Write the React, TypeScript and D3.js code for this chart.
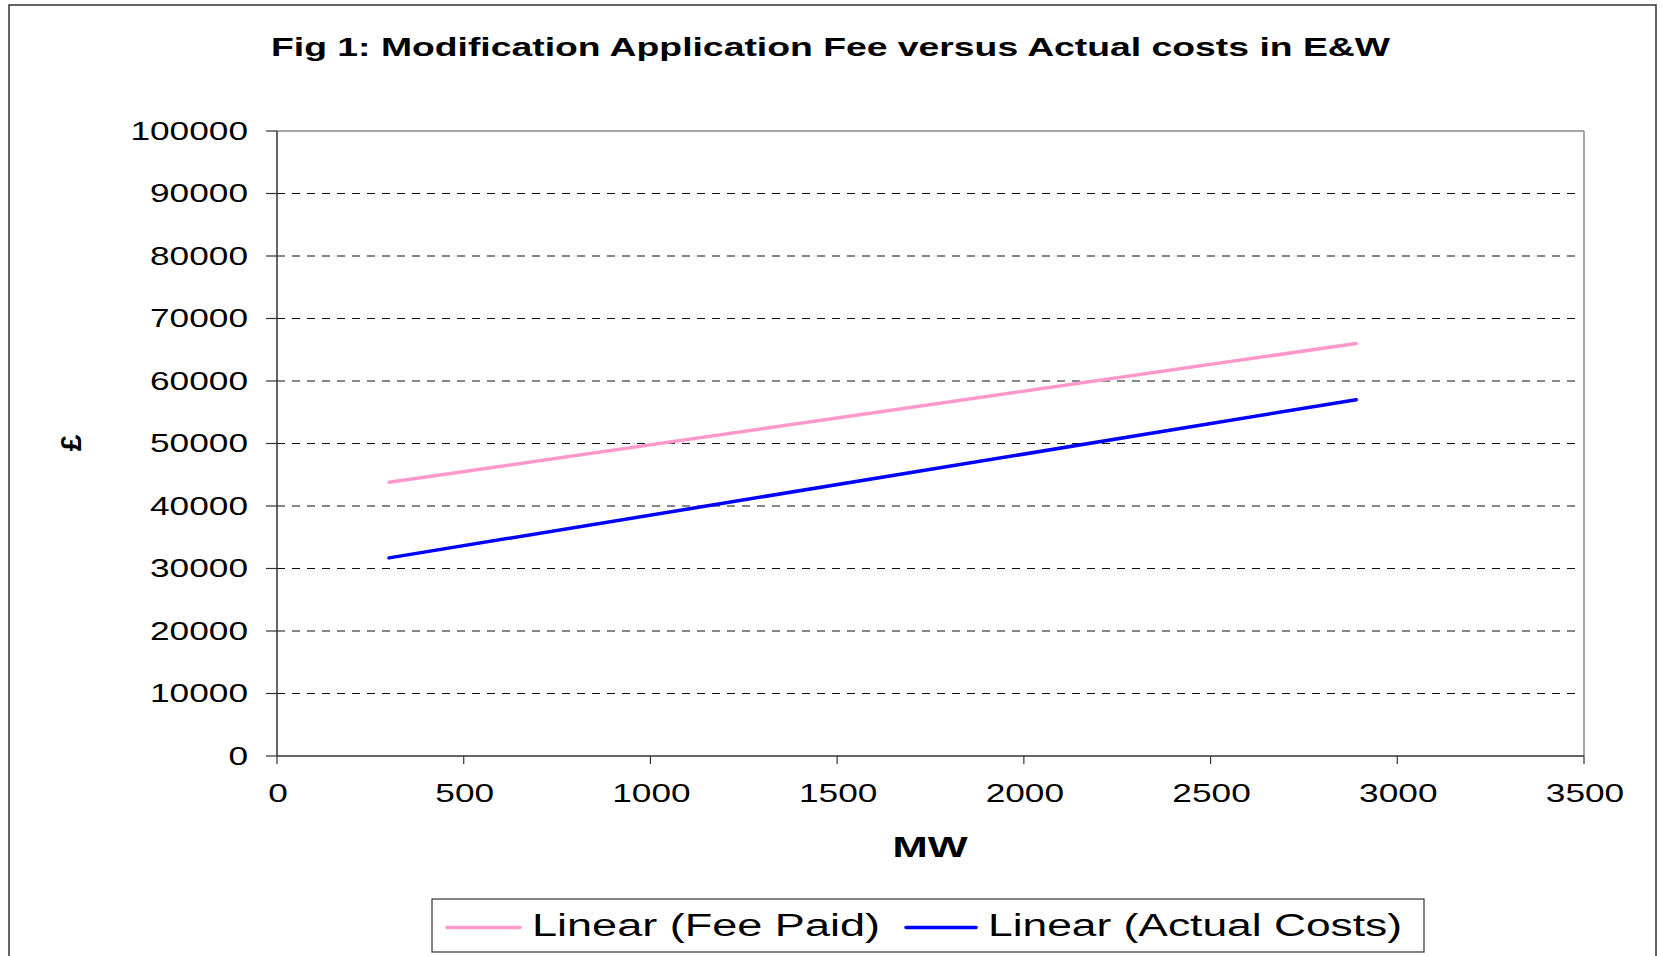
import React, { useEffect, useRef } from 'react';
import * as d3 from 'd3';

// trend line end points
const megawatts = [300, 2890];
const feePaid = [43800, 66000];
const actualCosts = [31700, 57000];

const xTicks = [0, 500, 1000, 1500, 2000, 2500, 3000, 3500];
const yTicks = [0, 10000, 20000, 30000, 40000, 50000, 60000, 70000, 80000, 90000, 100000];

const seriesNames = ['Linear (Fee Paid)', 'Linear (Actual Costs)'];
const seriesColors = ['#FF99CC', '#0000FF'];

const titleText = 'Fig 1: Modification Application Fee versus Actual costs in E&W';

const App = () => {
  const chartRef = useRef<SVGSVGElement>(null);

  useEffect(() => {
    drawChart();
  }, []);

  const drawChart = () => {
    const width = 1662;
    const height = 956;
    const font = '"Liberation Sans", Arial, sans-serif';
    const stretch = 1.41; // the original text is drawn wide

    const svg = d3.select(chartRef.current)
      .attr('width', width)
      .attr('height', height)
      .style('position', 'absolute')
      .style('left', 0)
      .style('top', 0)
      .style('background', 'white');
    svg.selectAll('*').remove();

    const left = 277, right = 1584, top = 131, bottom = 756;

    const x = d3.scaleLinear().domain([0, 3500]).range([left, right]);
    const y = d3.scaleLinear().domain([0, 100000]).range([bottom, top]);

    // outer chart border
    svg.append('rect')
      .attr('x', 9).attr('y', 5)
      .attr('width', 1647).attr('height', 980)
      .attr('fill', 'none')
      .attr('stroke', '#333')
      .attr('stroke-width', 1.5);

    // title
    svg.append('text')
      .attr('x', 271).attr('y', 56)
      .attr('textLength', 1119)
      .attr('lengthAdjust', 'spacingAndGlyphs')
      .attr('font-family', font)
      .attr('font-weight', 'bold')
      .attr('font-size', 26)
      .attr('fill', '#000')
      .text(titleText);

    // gridlines
    svg.append('g')
      .selectAll('line')
      .data(yTicks.filter(d => d > 0 && d < 100000))
      .join('line')
      .attr('x1', left).attr('x2', right - 8)
      .attr('y1', d => y(d)).attr('y2', d => y(d))
      .attr('stroke', '#111')
      .attr('stroke-width', 1.2)
      .attr('stroke-dasharray', '8,7');

    // plot frame: grey top / right, dark axes
    svg.append('line')
      .attr('x1', left).attr('x2', right).attr('y1', top).attr('y2', top)
      .attr('stroke', '#888').attr('stroke-width', 1.5);
    svg.append('line')
      .attr('x1', right).attr('x2', right).attr('y1', top).attr('y2', bottom)
      .attr('stroke', '#888').attr('stroke-width', 1.5);
    svg.append('line')
      .attr('x1', left).attr('x2', left).attr('y1', top).attr('y2', bottom)
      .attr('stroke', '#333').attr('stroke-width', 1.5);
    svg.append('line')
      .attr('x1', left).attr('x2', right).attr('y1', bottom).attr('y2', bottom)
      .attr('stroke', '#333').attr('stroke-width', 1.5);

    // y ticks + labels
    const yAxis = svg.append('g');
    yAxis.selectAll('line')
      .data(yTicks)
      .join('line')
      .attr('x1', left - 11).attr('x2', left)
      .attr('y1', d => y(d)).attr('y2', d => y(d))
      .attr('stroke', '#333').attr('stroke-width', 1.2);
    yAxis.selectAll('text')
      .data(yTicks)
      .join('text')
      .attr('transform', d => `translate(248,${y(d) + 8.5}) scale(${stretch},1)`)
      .attr('text-anchor', 'end')
      .attr('font-family', font)
      .attr('font-size', 25)
      .attr('fill', '#000')
      .text(d => String(d));

    // x ticks + labels
    const xAxis = svg.append('g');
    xAxis.selectAll('line')
      .data(xTicks)
      .join('line')
      .attr('x1', d => x(d)).attr('x2', d => x(d))
      .attr('y1', bottom).attr('y2', bottom + 8)
      .attr('stroke', '#333').attr('stroke-width', 1.2);
    xAxis.selectAll('text')
      .data(xTicks)
      .join('text')
      .attr('transform', d => `translate(${x(d) + 1},802) scale(${stretch},1)`)
      .attr('text-anchor', 'middle')
      .attr('font-family', font)
      .attr('font-size', 25)
      .attr('fill', '#000')
      .text(d => String(d));

    // axis titles
    svg.append('text')
      .attr('transform', `translate(930,857) scale(${stretch},1)`)
      .attr('text-anchor', 'middle')
      .attr('font-family', font)
      .attr('font-weight', 'bold')
      .attr('font-size', 30)
      .attr('fill', '#000')
      .text('MW');
    svg.append('text')
      .attr('transform', 'translate(81,443) rotate(-90)')
      .attr('text-anchor', 'middle')
      .attr('font-family', font)
      .attr('font-weight', 'bold')
      .attr('font-size', 30)
      .attr('fill', '#000')
      .text('£');

    // trend lines
    const series = [feePaid, actualCosts];
    const line = d3.line<number>()
      .x((_, i) => x(megawatts[i]))
      .y(d => y(d));
    svg.append('g')
      .selectAll('path')
      .data(series)
      .join('path')
      .attr('d', d => line(d) as string)
      .attr('fill', 'none')
      .attr('stroke', (_, i) => seriesColors[i])
      .attr('stroke-width', 3.5)
      .attr('stroke-linecap', 'round');

    // legend
    const legend = svg.append('g');
    legend.append('rect')
      .attr('x', 432).attr('y', 899)
      .attr('width', 992).attr('height', 53)
      .attr('fill', 'white')
      .attr('stroke', '#333')
      .attr('stroke-width', 1.2);
    const legendItems = [
      { x1: 447, x2: 520, tx: 532, tw: 348 },
      { x1: 906, x2: 976, tx: 988, tw: 414 },
    ];
    legendItems.forEach((item, i) => {
      legend.append('line')
        .attr('x1', item.x1).attr('x2', item.x2)
        .attr('y1', 927.5).attr('y2', 927.5)
        .attr('stroke', seriesColors[i])
        .attr('stroke-width', 3.5)
        .attr('stroke-linecap', 'round');
      legend.append('text')
        .attr('x', item.tx).attr('y', 936)
        .attr('textLength', item.tw)
        .attr('lengthAdjust', 'spacingAndGlyphs')
        .attr('font-family', font)
        .attr('font-size', 31)
        .attr('fill', '#000')
        .text(seriesNames[i]);
    });
  };

  return <svg ref={chartRef}></svg>;
};

export default App;
